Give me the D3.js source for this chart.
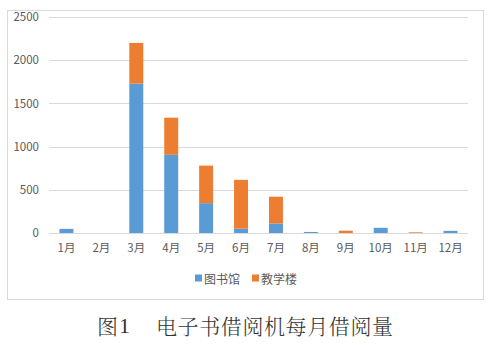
<!DOCTYPE html>
<html>
<head>
<meta charset="utf-8">
<script src="https://cdn.jsdelivr.net/npm/d3@7"></script>
<style>
  html, body { margin: 0; padding: 0; background: #fff; }
  svg { display: block; }
</style>
</head>
<body>
<svg id="chart" width="492" height="345"></svg>
<script>
// Monthly borrowing counts of the e-book lending machines
const months = ['1月','2月','3月','4月','5月','6月','7月','8月','9月','10月','11月','12月'];
const library = [48, 0, 1730, 905, 345, 50, 110, 12, 0, 60, 0, 25];      // 图书馆
const teaching = [0, 0, 470, 430, 435, 565, 310, 0, 27, 0, 8, 0];       // 教学楼
const seriesNames = ['图书馆', '教学楼'];
const seriesColors = ['#5B9BD5', '#ED7D31'];
const yTicks = [0, 500, 1000, 1500, 2000, 2500];
const captionLabel = ['图', '1'];
const captionTitle = '电子书借阅机每月借阅量';

const font = '"Noto Sans CJK SC", "Microsoft YaHei", sans-serif';
const svg = d3.select('#chart');

// chart area frame
svg.append('rect')
  .attr('x', 7.5).attr('y', 10.5)
  .attr('width', 476).attr('height', 289)
  .attr('fill', '#fff').attr('stroke', '#D9D9D9').attr('stroke-width', 1);

const x = d3.scaleBand().domain(months).range([49, 468]).paddingInner(0.6).paddingOuter(0.3);
const y = d3.scaleLinear().domain([0, 2500]).range([233, 17]);

// horizontal gridlines
svg.append('g').selectAll('line').data(yTicks.filter(d => d > 0)).join('line')
  .attr('x1', 49).attr('x2', 468)
  .attr('y1', d => Math.round(y(d)) + 0.5).attr('y2', d => Math.round(y(d)) + 0.5)
  .attr('stroke', '#D9D9D9').attr('stroke-width', 1);

// y axis labels
const yAxis = d3.axisLeft(y).tickValues(yTicks).tickFormat(d3.format('d')).tickSize(0).tickPadding(0);
const gy = svg.append('g').attr('transform', 'translate(39,0)').call(yAxis);
gy.select('.domain').remove();
gy.selectAll('text')
  .attr('font-family', font).attr('font-size', 11.5).attr('fill', '#595959');

// stacked bars
const rows = months.map((m, i) => ({ month: m, 图书馆: library[i], 教学楼: teaching[i] }));
const stacked = d3.stack().keys(seriesNames)(rows);
svg.append('g').selectAll('g').data(stacked).join('g')
  .attr('fill', (d, i) => seriesColors[i])
  .selectAll('rect').data(d => d).join('rect')
  .attr('x', d => x(d.data.month))
  .attr('width', x.bandwidth())
  .attr('y', d => y(d[1]))
  .attr('height', d => Math.max(0, y(d[0]) - y(d[1])));

// category axis
const xAxis = d3.axisBottom(x).tickSize(0).tickPadding(11);
const gx = svg.append('g').attr('transform', 'translate(0,233)').call(xAxis);
gx.select('.domain').attr('stroke', '#D9D9D9').attr('d', 'M49,0.5H468');
gx.selectAll('text')
  .attr('font-family', font).attr('font-size', 11.5).attr('fill', '#595959');

// legend
const legend = svg.append('g');
const legendX = [195, 252];
seriesNames.forEach((name, i) => {
  legend.append('rect')
    .attr('x', legendX[i]).attr('y', 274.5)
    .attr('width', 7).attr('height', 7)
    .attr('fill', seriesColors[i]);
  legend.append('text')
    .attr('x', legendX[i] + 9).attr('y', 278)
    .attr('dominant-baseline', 'central')
    .attr('font-family', font).attr('font-size', 12).attr('fill', '#595959')
    .text(name);
});

// figure caption
const cap = svg.append('text')
  .attr('y', 325)
  .attr('dominant-baseline', 'central')
  .attr('font-family', '"Noto Serif CJK SC", "Noto Sans CJK SC", serif')
  .attr('font-size', 21).attr('fill', '#333')
  .attr('font-weight', 300);
cap.append('tspan').attr('x', 97).text(captionLabel[0]);
cap.append('tspan').attr('x', 119).attr('font-family', '"Liberation Serif", serif').attr('font-size', 22).text(captionLabel[1]);
cap.append('tspan').attr('x', 156).attr('letter-spacing', 0.6).text(captionTitle);
</script>
</body>
</html>
